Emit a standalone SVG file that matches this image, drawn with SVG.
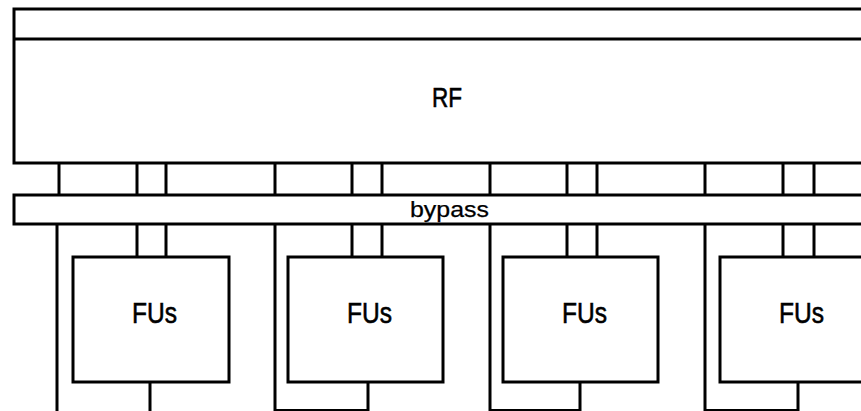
<svg xmlns="http://www.w3.org/2000/svg" width="861" height="411" viewBox="0 0 861 411">
<style>
.box{fill:#fff;stroke:#000;stroke-width:3}
.ln{stroke:#000;stroke-width:3;fill:none}
.thin{stroke:#000;stroke-width:2;fill:none}
.lbl{font-family:"Liberation Sans","DejaVu Sans",sans-serif;fill:#000;stroke:#000;stroke-width:0.6;text-anchor:middle}
.sm{stroke-width:0.25}
</style>
<rect width="861" height="411" fill="#fff"/>
<g id="connectors">
<path class="ln" d="M59 163V195M137 163V195M166 163V195M275 163V195M352 163V195M382 163V195M490 163V195M567 163V195M597 163V195M705 163V195M783 163V195M814 163V195"/>
<path class="ln" d="M57 224V411M275 224V411M490 224V411M705 224V411"/>
<path class="ln" d="M137 224V257M166 224V257M352 224V257M382 224V257M567 224V257M597 224V257M783 224V257M814 224V257"/>
<path class="ln" d="M150 382V411M368 382V411M580 382V411M798 382V411"/>
<path class="thin" d="M275 410H368M490 410H580M705 410H798"/>
</g>
<g id="rf">
<rect class="box" x="14" y="9" width="870" height="154"/>
<line class="ln" x1="14" y1="39" x2="870" y2="39"/>
<text class="lbl" x="447" y="107" font-size="27" textLength="30" lengthAdjust="spacingAndGlyphs">RF</text>
</g>
<g id="bypass">
<rect class="box" x="14" y="195" width="870" height="29"/>
<text class="lbl sm" x="449.5" y="216.5" font-size="22" textLength="79" lengthAdjust="spacingAndGlyphs">bypass</text>
</g>
<g id="fu1">
<rect class="box" x="73" y="257" width="156" height="125"/>
<text class="lbl" x="154.5" y="323" font-size="30" textLength="45" lengthAdjust="spacingAndGlyphs">FUs</text>
</g>
<g id="fu2">
<rect class="box" x="288" y="257" width="155" height="125"/>
<text class="lbl" x="369.5" y="323" font-size="30" textLength="45" lengthAdjust="spacingAndGlyphs">FUs</text>
</g>
<g id="fu3">
<rect class="box" x="503" y="257" width="155" height="125"/>
<text class="lbl" x="584.5" y="323" font-size="30" textLength="45" lengthAdjust="spacingAndGlyphs">FUs</text>
</g>
<g id="fu4">
<rect class="box" x="720" y="257" width="160" height="125"/>
<text class="lbl" x="801.5" y="323" font-size="30" textLength="45" lengthAdjust="spacingAndGlyphs">FUs</text>
</g>
</svg>
